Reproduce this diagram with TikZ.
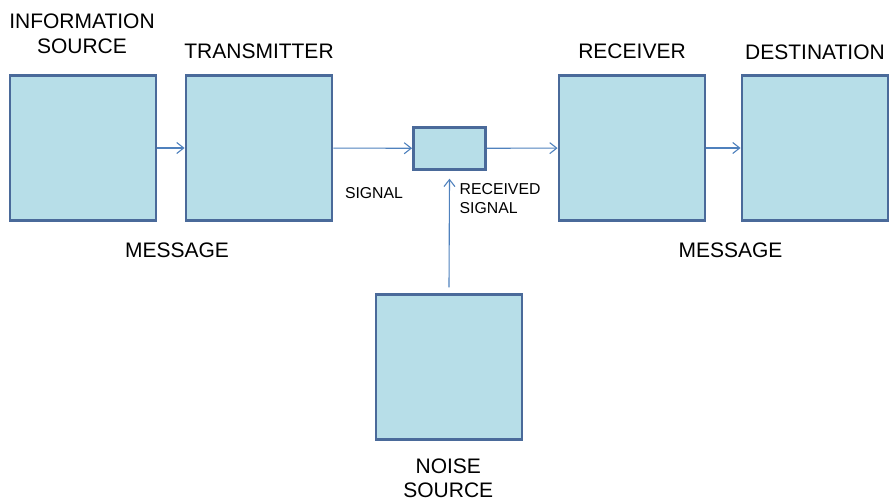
\documentclass[tikz,border=0pt]{standalone}
\usepackage{fontspec}
\setmainfont{Liberation Sans}
\usetikzlibrary{arrows.meta}

\definecolor{boxfill}{HTML}{B7DEE8}
\definecolor{boxline}{HTML}{4A6A9A}
\definecolor{flowline}{HTML}{4F81BD}

\tikzset{
	block/.style={draw=boxline, line width=2.8pt, fill=boxfill, inner sep=0pt,
		minimum width=146pt, minimum height=145pt},
	flow/.style={draw=flowline, line width=1.1pt, -{Straight Barb[length=7pt,width=11pt]}},
	bigtext/.style={font=\fontsize{21}{25}\selectfont, inner sep=0pt, align=center},
	smalltext/.style={font=\fontsize{15.8}{19.7}\selectfont, inner sep=0pt, align=left},
}

\begin{document}
\begin{tikzpicture}[x=1pt,y=-1pt]
		\useasboundingbox (0,0) rectangle (889,503);

		% boxes
		\node[block] (info) at (83,148) {};
		\node[block] (trans) at (259,148) {};
		\node[block] (recv) at (632,148) {};
		\node[block] (dest) at (815,148) {};
		\node[block] (noise) at (449,367.3) {};
		\node[block, minimum width=72pt, minimum height=42pt] (chan) at (449.5,148.3) {};

		% connectors
		\draw[flow] (info) -- (trans);
		\draw[flow] (trans) -- (chan);
		\draw[flow] (chan) -- (recv);
		\draw[flow] (recv) -- (dest);
		\draw[flow] ([yshift=6pt]noise.north) -- ([yshift=-8pt]chan.south);

		% labels
		\node[bigtext] (infolbl) at (82,34) {INFORMATION\\SOURCE};
		\node[bigtext] (translbl) at (259,51.3) {TRANSMITTER};
		\node[bigtext] (recvlbl) at (632,51.3) {RECEIVER};
		\node[bigtext] (destlbl) at (815,52) {DESTINATION};
		\node[bigtext] (msgleft) at (177,250.3) {MESSAGE};
		\node[bigtext] (msgright) at (730.5,250.3) {MESSAGE};
		\node[bigtext, font=\fontsize{21}{23.5}\selectfont] (noiselbl) at (448.3,478.3) {NOISE\\SOURCE};
		\node[smalltext] (sigl) at (374,193.3) {SIGNAL};
		\node[smalltext, anchor=west] (rsigl) at (459.5,198.5) {RECEIVED\\SIGNAL};
	\end{tikzpicture}
\end{document}
